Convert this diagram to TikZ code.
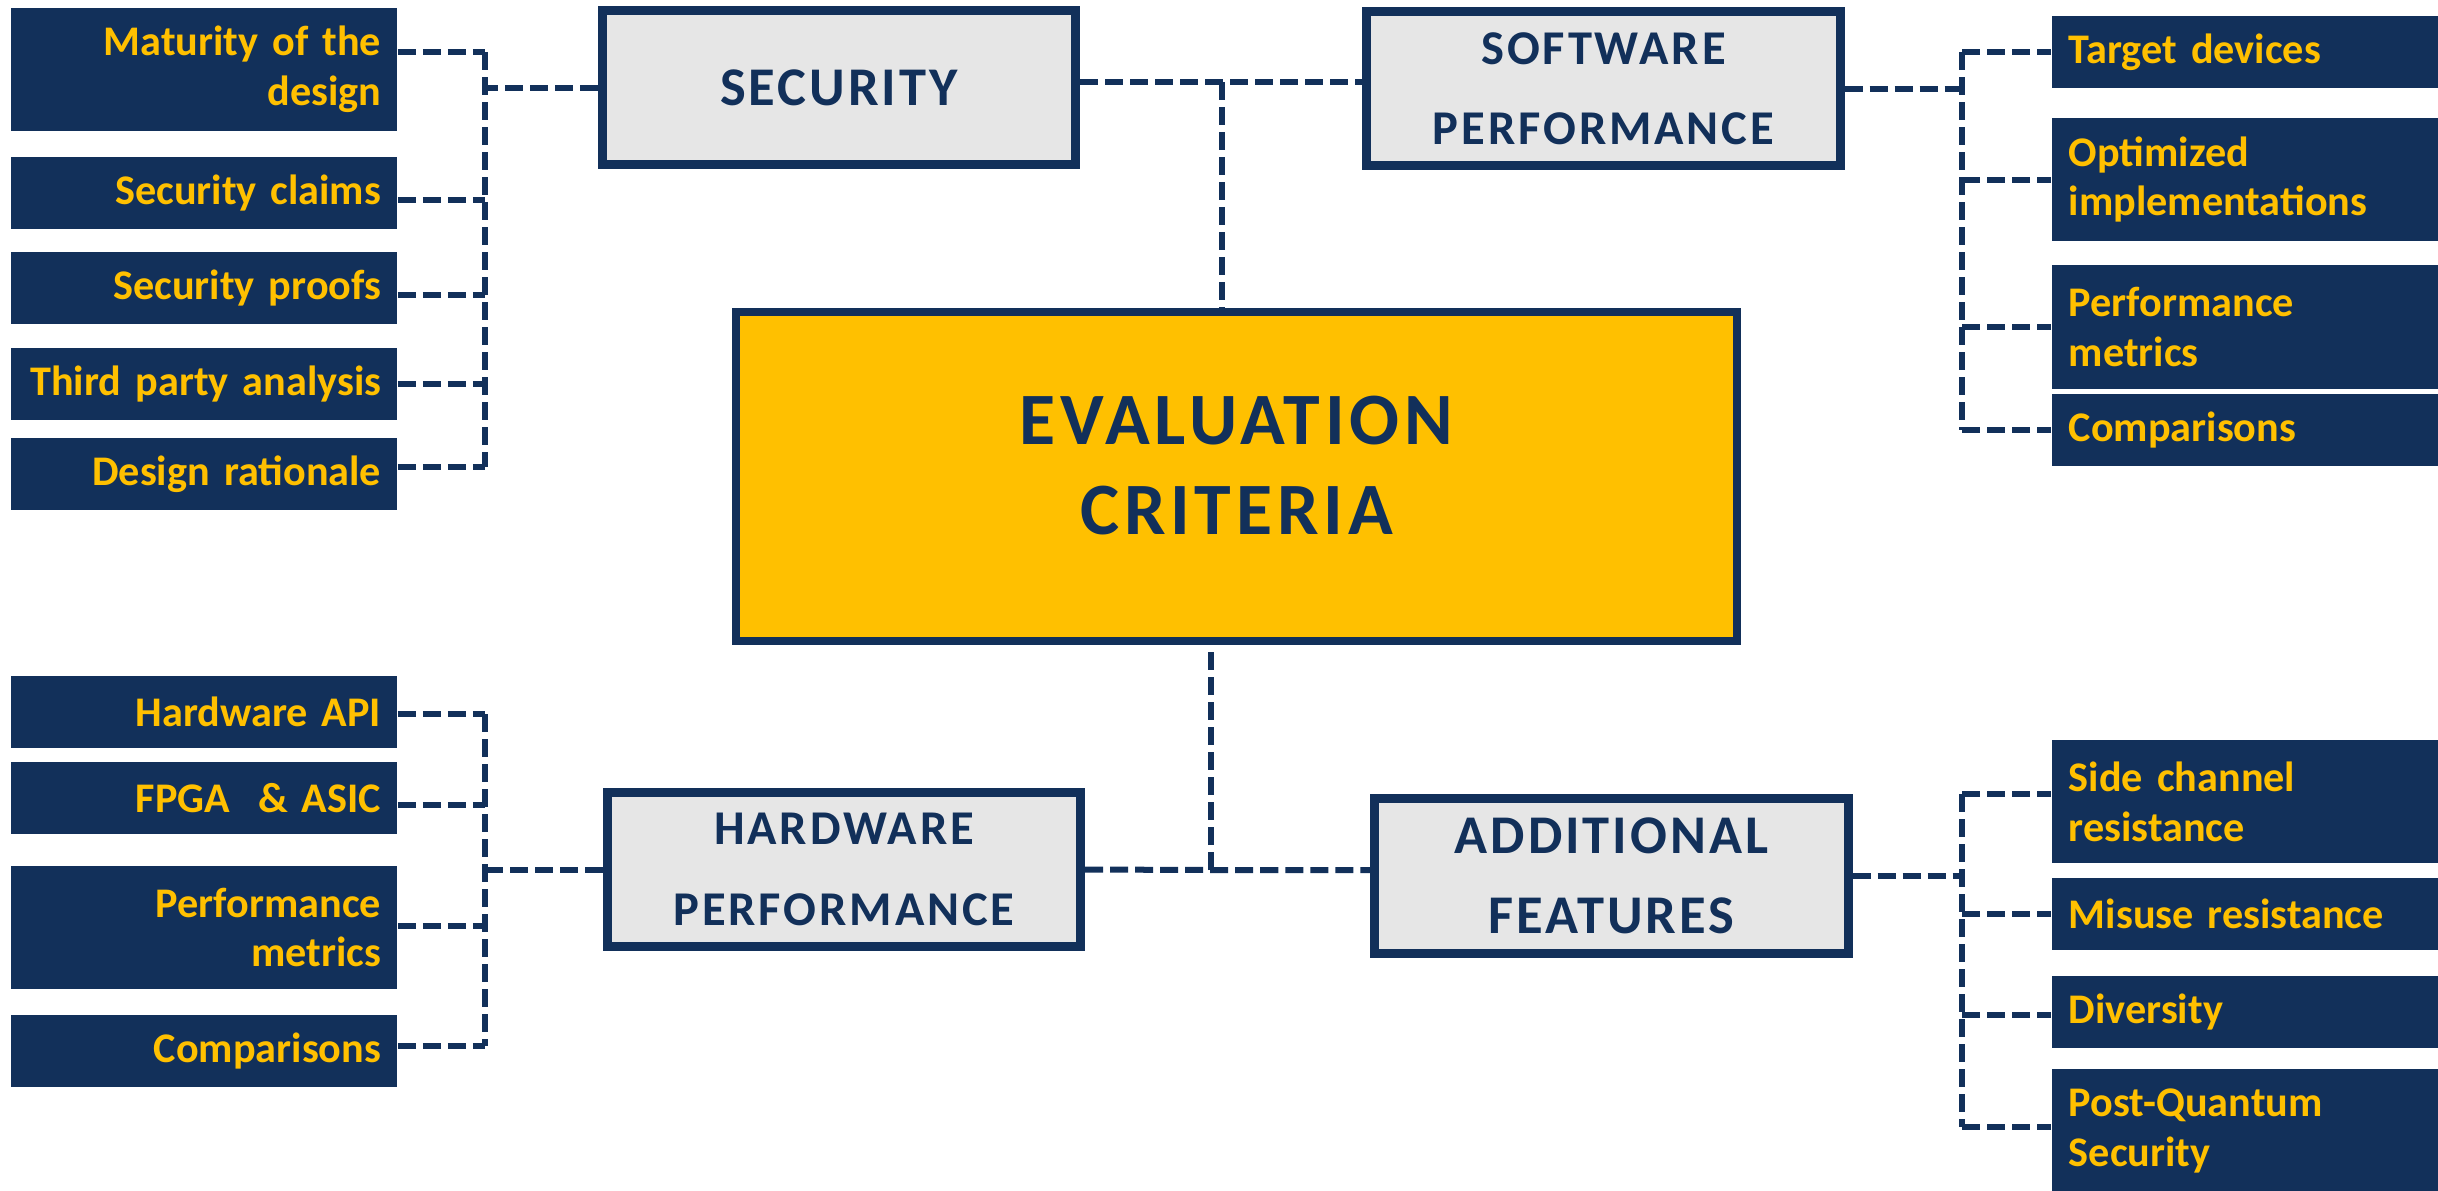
\documentclass[tikz,border=0pt]{standalone}
\usepackage{fontspec}
\setmainfont{Carlito}
\definecolor{navy}{HTML}{12305A}
\definecolor{gold}{HTML}{FFC000}
\definecolor{panel}{HTML}{E6E6E6}
\tikzset{%
  link/.style={navy, line width=0.06cm, dash pattern=on 0.18cm off 0.07cm}, % dashed connectors
  item/.style={fill=navy, text=gold, inner ysep=0pt, minimum width=3.86cm,
    font=\bfseries\fontsize{12}{14.2}\selectfont},%
  left item/.style={item, inner xsep=0.16cm, text width=3.54cm, align=right},%
  right item/.style={item, inner xsep=0.17cm, text width=3.52cm, align=left},%
  head/.style={draw=navy, line width=0.09cm, fill=panel, text=navy,
    minimum width=4.73cm, minimum height=1.54cm, align=center,
    font=\bfseries\fontsize{15.5}{22.8}\selectfont\addfontfeature{LetterSpace=5.5}},%
  small head/.style={head,
    font=\bfseries\fontsize{13.8}{22.8}\selectfont\addfontfeature{LetterSpace=6}}%
}
\begin{document}
\begin{tikzpicture}[x=0.01cm,y=-0.01cm] % 1 unit = 1 pixel
\useasboundingbox (0,0) rectangle (2438,1190);
\def\busL{485} % left buses
\def\busR{1962} % right buses

% centre and the four criteria
\node[draw=navy, line width=0.08cm, fill=gold,
  minimum width=10.01cm, minimum height=3.29cm,
  label={[text=navy, align=center, yshift=0.11cm,
    font=\bfseries\fontsize{21}{25.6}\selectfont\addfontfeature{LetterSpace=6.5}]
    center:EVALUATION\\CRITERIA}]
  (crit) at (1236.5,476.5) {};
\node[head] (sec) at (839,87.5) {SECURITY};
\node[small head] (sw) at (1603.5,88.5) {SOFTWARE\\PERFORMANCE};
\node[small head] (hw) at (844,869.5) {HARDWARE\\PERFORMANCE};
\node[head, minimum height=1.55cm] (af) at (1611.5,876) {ADDITIONAL\\FEATURES};

\coordinate (top) at (1222,82);
\coordinate (bot) at (1211,870);
\draw[link] (sec.east |- top) -- (sw.west |- top);
\draw[link] (top) -- (top |- crit.north);
\draw[link] (hw.east) -- (bot) -- (af.west |- bot);
\draw[link] (bot) -- (bot |- crit.south);

% security
\foreach \n/\y/\h/\s/\t in {s1/69.5/1.23/52/{Maturity of the\\design},
  s2/193/0.72/200/{Security claims}, s3/288/0.72/295/{Security proofs},
  s4/384/0.72/384/{Third party analysis}, s5/474/0.72/467/{Design rationale}} {
  \node[left item, minimum height=\h cm] (\n) at (204,\y) {\t};
  \coordinate (\n b) at (\busL,\s);
  \draw[link] (\n.east |- \n b) -- (\n b);
}
\draw[link] (s1b) -- (s5b);
\draw[link] (sec.west) -- (sec.west -| s1b);

% software performance
\foreach \n/\y/\h/\t in {w1/52/0.72/{Target devices},
  w2/179.5/1.23/{Optimized\\implementations}, w3/327/1.23/{Performance\\metrics},
  w4/430/0.72/{Comparisons}} {
  \node[right item, minimum height=\h cm] (\n) at (2245,\y) {\t};
  \coordinate (\n b) at (\busR,\y);
  \draw[link] (\n b) -- (\n.west |- \n b);
}
\draw[link] (w1b) -- (w4b);
\draw[link] (sw.east) -- (sw.east -| w1b);

% hardware performance
\foreach \n/\y/\h/\s/\t in {h1/712/0.72/714/{Hardware API},
  h2/798/0.72/805/{FPGA \ \& ASIC}, h3/927.5/1.23/926/{Performance\\metrics},
  h4/1051/0.72/1046/{Comparisons}} {
  \node[left item, minimum height=\h cm] (\n) at (204,\y) {\t};
  \coordinate (\n b) at (\busL,\s);
  \draw[link] (\n.east |- \n b) -- (\n b);
}
\draw[link] (h1b) -- (h4b);
\draw[link] (hw.west) -- (hw.west -| h1b);

% additional features
\foreach \n/\y/\h/\s/\t in {a1/801.5/1.23/794/{Side channel\\resistance},
  a2/914/0.72/914/{Misuse resistance}, a3/1012/0.72/1015/{Diversity},
  a4/1130.5/1.23/1127/{Post-Quantum\\Security}} {
  \node[right item, minimum height=\h cm] (\n) at (2245,\y) {\t};
  \coordinate (\n b) at (\busR,\s);
  \draw[link] (\n b) -- (\n.west |- \n b);
}
\draw[link] (a1b) -- (a4b);
\draw[link] (af.east) -- (af.east -| a1b);
\end{tikzpicture}
\end{document}
